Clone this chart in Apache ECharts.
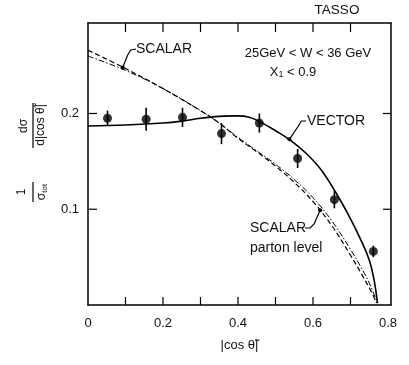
<!DOCTYPE html>
<html>
<head>
<meta charset="UTF-8">
<script src="https://cdn.jsdelivr.net/npm/echarts@6/dist/echarts.min.js"></script>
<style>
  html, body { margin: 0; padding: 0; background: #fff; }
  #chart { width: 409px; height: 365px; }
</style>
</head>
<body>
<div id="chart"></div>
<script>
// measured points with errors
var ptX = [0.052, 0.155, 0.252, 0.356, 0.457, 0.559, 0.657, 0.761];
var ptY = [0.195, 0.194, 0.196, 0.179, 0.190, 0.153, 0.110, 0.056];
var ptErr = [0.008, 0.012, 0.010, 0.011, 0.010, 0.010, 0.009, 0.006];

// VECTOR (solid)
var vecX = [0, 0.1, 0.2, 0.25, 0.3, 0.35, 0.4, 0.43, 0.46, 0.5, 0.54, 0.58, 0.62, 0.66, 0.7, 0.73, 0.75, 0.762, 0.772];
var vecY = [0.187, 0.188, 0.190, 0.192, 0.195, 0.197, 0.1975, 0.196, 0.191, 0.182, 0.172, 0.159, 0.142, 0.118, 0.090, 0.066, 0.047, 0.028, 0.002];

// SCALAR (dashed)
var scX = [0, 0.1, 0.2, 0.3, 0.35, 0.4, 0.45, 0.5, 0.55, 0.6, 0.65, 0.7, 0.73, 0.75, 0.77];
var scY = [0.266, 0.247, 0.226, 0.203, 0.190, 0.174, 0.160, 0.145, 0.128, 0.108, 0.083, 0.052, 0.032, 0.018, 0.002];

// SCALAR parton level (dash-dot)
var spX = [0, 0.1, 0.2, 0.3, 0.35, 0.4, 0.45, 0.5, 0.55, 0.6, 0.65, 0.7, 0.73, 0.75, 0.772];
var spY = [0.260, 0.245, 0.226, 0.203, 0.190, 0.175, 0.161, 0.147, 0.131, 0.112, 0.088, 0.058, 0.038, 0.023, 0.002];

var xLabels = ['0', '0.2', '0.4', '0.6', '0.8'];
var yLabels = ['0.1', '0.2'];
var xTicks = [0.1, 0.2, 0.3, 0.4, 0.5, 0.6, 0.7];
var yTicks = [0.1, 0.2];

function zip(a, b) {
    var out = [];
    for (var i = 0; i < a.length; i++) out.push([a[i], b[i]]);
    return out;
}

var font = 'Liberation Sans';
var chart = echarts.init(document.getElementById('chart'));

var frameAxis = { show: true, onZero: false, lineStyle: { color: '#000', width: 1.5 } };

function pickLabel(list) {
    return function (v) {
        var s = (Math.abs(v) < 1e-9) ? '0' : (Math.round(v * 10) / 10).toString();
        return (Math.abs(v * 10 - Math.round(v * 10)) < 1e-6 && list.indexOf(s) >= 0) ? s : '';
    };
}

var option = {
    animation: false,
    backgroundColor: '#fff',
    grid: { left: 88, right: 18, top: 23, bottom: 60 },
    xAxis: [{
        type: 'value', min: 0, max: 0.808, interval: 0.1, position: 'bottom',
        axisLine: frameAxis, axisTick: { show: false },
        axisLabel: { color: '#111', fontFamily: font, fontSize: 13, margin: 12, showMaxLabel: false,
            formatter: pickLabel(xLabels) },
        splitLine: { show: false },
        name: '|cos θ̃|', nameLocation: 'middle', nameGap: 34,
        nameTextStyle: { color: '#111', fontFamily: font, fontSize: 13 }
    }, {
        type: 'value', min: 0, max: 0.808, interval: 0.1, position: 'top',
        axisLine: frameAxis, axisTick: { show: false },
        axisLabel: { show: false },
        splitLine: { show: false }
    }],
    yAxis: [{
        type: 'value', min: 0, max: 0.2945, interval: 0.1, position: 'left',
        axisLine: frameAxis, axisTick: { show: false },
        axisLabel: { color: '#111', fontFamily: font, fontSize: 13, margin: 9, showMaxLabel: false,
            formatter: pickLabel(yLabels) },
        splitLine: { show: false }
    }, {
        type: 'value', min: 0, max: 0.2945, interval: 0.1, position: 'right',
        axisLine: frameAxis, axisTick: { show: false },
        axisLabel: { show: false },
        splitLine: { show: false }
    }],
    series: [{
        name: 'VECTOR', type: 'line', data: zip(vecX, vecY), smooth: 0.4,
        showSymbol: false, lineStyle: { color: '#000', width: 1.6 }
    }, {
        name: 'SCALAR', type: 'line', data: zip(scX, scY), smooth: 0.4,
        showSymbol: false, lineStyle: { color: '#000', width: 1.2, type: [5, 3] }
    }, {
        name: 'SCALAR parton level', type: 'line', data: zip(spX, spY), smooth: 0.4,
        showSymbol: false, lineStyle: { color: '#000', width: 1, type: [6, 2, 1.5, 2] }
    }, {
        name: 'errors', type: 'custom',
        data: ptX.map(function (x, i) { return [x, ptY[i] - ptErr[i], ptY[i] + ptErr[i]]; }),
        renderItem: function (params, api) {
            var lo = api.coord([api.value(0), api.value(1)]);
            var hi = api.coord([api.value(0), api.value(2)]);
            return { type: 'line', shape: { x1: lo[0], y1: lo[1], x2: hi[0], y2: hi[1] },
                style: { stroke: '#000', lineWidth: 1.6 } };
        }
    }, {
        name: 'data', type: 'scatter', data: zip(ptX, ptY), symbol: 'circle', symbolSize: 9,
        itemStyle: { color: '#000' }
    }]
};
chart.setOption(option);

// annotations anchored in data coordinates
function px(x, y) { return chart.convertToPixel({ xAxisIndex: 0, yAxisIndex: 0 }, [x, y]); }
var txt = { fill: '#111', fontFamily: font, fontSize: 13 };
function text(p, s, align, size) {
    return { type: 'text', x: p[0], y: p[1], style: Object.assign({}, txt, { text: s, align: align || 'left', verticalAlign: 'middle', fontSize: size || 13 }) };
}
function leader(pts) {
    return { type: 'polyline', shape: { points: pts }, style: { stroke: '#000', lineWidth: 1.2, fill: null } };
}
// short straight strokes (ticks, fraction bars) drawn as thin filled rects
function box(x, y, w, h) {
    return { type: 'rect', shape: { x: x, y: y, width: w, height: h }, style: { fill: '#000' } };
}
function dot(p) {
    return { type: 'circle', shape: { cx: p[0], cy: p[1], r: 2 }, style: { fill: '#000' } };
}

var g = [];
// inward ticks on all four sides of the frame
var cornerLB = px(0, 0), cornerRT = px(0.808, 0.2945);
var fL = cornerLB[0], fB = cornerLB[1], fR = cornerRT[0], fT = cornerRT[1];
xTicks.forEach(function (v) {
    var x = px(v, 0.1)[0];
    g.push(box(x - 0.6, fB - 8, 1.2, 8));
    g.push(box(x - 0.6, fT, 1.2, 9));
});
yTicks.forEach(function (v) {
    var y = px(0.1, v)[1];
    g.push(box(fL, y - 0.6, 9, 1.2));
    g.push(box(fR - 8, y - 0.6, 8, 1.2));
});

var aTop = px(0.0925, 0.248), aVec = px(0.537, 0.173), aSp = px(0.619, 0.099);
g.push(text([337, 10], 'TASSO', 'center', 13.5));
g.push(text([308, 53], '25GeV < W < 36 GeV', 'center', 13));
g.push({ type: 'text', x: 293, y: 72, style: Object.assign({}, txt, { text: '{a|X}{s|1}{a| < 0.9}', align: 'center', verticalAlign: 'middle',
    rich: { a: { fontFamily: font, fontSize: 13, fill: '#111' }, s: { fontFamily: font, fontSize: 9, fill: '#111', padding: [6, 0, 0, 0] } } }) });

g.push(dot(aTop));
g.push(leader([aTop, [aTop[0] + 5, 55], [aTop[0] + 8, 50], [136, 49]]));
g.push(text([136, 49], 'SCALAR', 'left', 14));

g.push(dot(aVec));
g.push(leader([aVec, [aVec[0] + 9, 126], [aVec[0] + 12, 121], [306, 121]]));
g.push(text([307, 121], 'VECTOR', 'left', 14));

g.push(dot(aSp));
g.push(leader([aSp, [aSp[0] - 6, 224], [aSp[0] - 10, 228], [305, 228]]));
g.push(text([306, 228], 'SCALAR', 'right', 14));
g.push(text([250, 248], 'parton level', 'left', 14));

// y-axis label 1/σ_tot dσ/d|cos θ̃|, reading bottom to top
var yl = {
    type: 'group', x: 33, y: 150, rotation: Math.PI / 2,
    children: [
        { type: 'text', x: -42, y: -5, style: Object.assign({}, txt, { text: '1', align: 'center', verticalAlign: 'bottom', fontSize: 12 }) },
        box(-52, -0.6, 20, 1.2),
        { type: 'text', x: -42, y: 2, style: Object.assign({}, txt, { text: '{a|σ}{s|tot}', align: 'center', verticalAlign: 'top',
            rich: { a: { fontFamily: font, fontSize: 12, fill: '#111' }, s: { fontFamily: font, fontSize: 8, fill: '#111', padding: [6, 0, 0, 0] } } }) },
        { type: 'text', x: 24, y: -3, style: Object.assign({}, txt, { text: 'dσ', align: 'center', verticalAlign: 'bottom', fontSize: 12 }) },
        box(2, -0.6, 45, 1.2),
        { type: 'text', x: 25, y: 2, style: Object.assign({}, txt, { text: 'd|cos θ̃|', align: 'center', verticalAlign: 'top', fontSize: 12 }) }
    ]
};
g.push(yl);
chart.setOption({ graphic: g });
</script>
</body>
</html>
